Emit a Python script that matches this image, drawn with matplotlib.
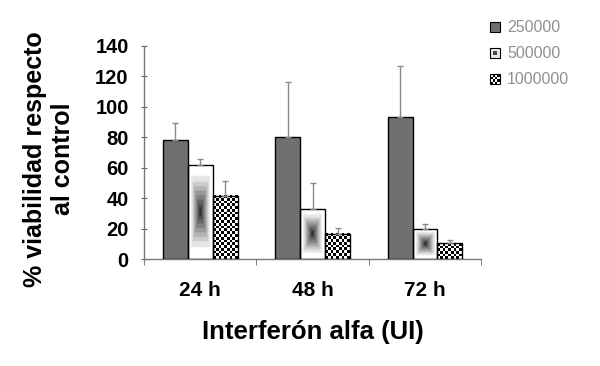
import numpy as np
import matplotlib
matplotlib.use("Agg")
import matplotlib.pyplot as plt
from matplotlib.patches import Rectangle
from matplotlib.legend_handler import HandlerBase

plt.rcParams['font.family'] = ['Liberation Sans', 'DejaVu Sans']

categories = ["24 h", "48 h", "72 h"]
series_names = ["250000", "500000", "1000000"]
values = {
    "250000": [78, 80, 93],
    "500000": [62, 33, 20],
    "1000000": [41.5, 16.5, 10.5],
}
errors = {
    "250000": [11, 36.5, 34],
    "500000": [3.5, 17, 3],
    "1000000": [10, 4, 1.7],
}
y_ticks = [0, 20, 40, 60, 80, 100, 120, 140]

fig = plt.figure(figsize=(6.0, 3.66), dpi=100)
ax = fig.add_axes([0.24, 0.2923, 0.562, 0.5827])

x = np.arange(len(categories))
bw = 0.222
offsets = [-bw, 0, bw]

# gradient image (box gradient, dark centre)
n = 64
u = np.linspace(-1, 1, n)
U, V = np.meshgrid(u, u)
r = np.maximum(np.abs(U), np.abs(V))
grad = 1 - 0.85 * np.clip(1 - r / 0.85, 0, 1) ** 1.2
grad = np.round(grad * 10) / 10.0

def checker(nx, ny):
    return (np.add.outer(np.arange(ny), np.arange(nx)) % 2).astype(float)

for i, name in enumerate(series_names):
    fc = '#707070' if i == 0 else 'none'
    bars = ax.bar(x + offsets[i], values[name], bw, facecolor=fc,
                  edgecolor='black', linewidth=1.0, zorder=3)
    for b in bars:
        x0, w, h = b.get_x(), b.get_width(), b.get_height()
        if i == 1:
            ax.imshow(grad, cmap='gray', vmin=0, vmax=1, extent=[x0, x0 + w, 0, h],
                      aspect='auto', interpolation='bilinear', zorder=2)
        elif i == 2:
            nx = 9
            ny = max(1, int(round(h * 1.524 / 2.8)))
            ax.imshow(checker(nx, ny), cmap='gray', vmin=0, vmax=1,
                      extent=[x0, x0 + w, 0, h], aspect='auto',
                      interpolation='nearest', zorder=2)
    ax.errorbar(x + offsets[i], values[name],
                yerr=[np.zeros(len(categories)), errors[name]],
                fmt='none', ecolor='#8a8a8a', elinewidth=1.0, capsize=2.5,
                capthick=1.0, zorder=4)

ax.set_xlim(-0.5, 2.5)
ax.set_ylim(0, 140)
ax.set_yticks(y_ticks)
ax.set_yticklabels([str(t) for t in y_ticks], fontsize=14.5, fontweight='bold')
ax.set_xticks(x)
ax.set_xticklabels(categories, fontsize=15, fontweight='bold')
ax.set_xticks([-0.5, 0.5, 1.5, 2.5], minor=True)
ax.tick_params(axis='x', which='major', length=0, pad=16)
ax.tick_params(axis='x', which='minor', length=4, direction='out', color='#666')
ax.tick_params(axis='y', length=4, direction='inout', color='#666', pad=9)

for s in ['top', 'right']:
    ax.spines[s].set_visible(False)
for s in ['left', 'bottom']:
    ax.spines[s].set_color('#777')
    ax.spines[s].set_linewidth(1.0)

ax.set_xlabel("Interferón alfa (UI)", fontsize=18.5, fontweight='bold')
ax.xaxis.set_label_coords(0.5, -0.285)
ax.set_ylabel("% viabilidad respecto\nal control", fontsize=18, fontweight='bold',
              linespacing=1.2)
ax.yaxis.set_label_coords(-0.205, 0.47)

# legend with custom handlers
class SolidHandler(HandlerBase):
    def create_artists(self, legend, orig, xd, yd, w, h, fs, trans):
        return [Rectangle((xd, yd), w, h, facecolor='#707070', edgecolor='black',
                          lw=0.8, transform=trans)]

class GradHandler(HandlerBase):
    def create_artists(self, legend, orig, xd, yd, w, h, fs, trans):
        a = Rectangle((xd, yd), w, h, facecolor='#e8e8e8', edgecolor='black',
                      lw=0.8, transform=trans)
        b = Rectangle((xd + w * 0.3, yd + h * 0.3), w * 0.4, h * 0.4,
                      facecolor='#444', edgecolor='none', transform=trans)
        return [a, b]

class CheckHandler(HandlerBase):
    def create_artists(self, legend, orig, xd, yd, w, h, fs, trans):
        arts = [Rectangle((xd, yd), w, h, facecolor='white', edgecolor='black',
                          lw=0.8, transform=trans)]
        k = 4
        for ii in range(k):
            for jj in range(k):
                if (ii + jj) % 2 == 0:
                    arts.append(Rectangle((xd + ii * w / k, yd + jj * h / k), w / k, h / k,
                                          facecolor='black', edgecolor='none',
                                          transform=trans))
        return arts

class H1: pass
class H2: pass
class H3: pass

leg = fig.legend([H1(), H2(), H3()], series_names,
                 handler_map={H1: SolidHandler(), H2: GradHandler(), H3: CheckHandler()},
                 loc='upper left', bbox_to_anchor=(0.793, 0.985), frameon=False,
                 fontsize=11.5, handlelength=0.6, handleheight=0.6, labelspacing=0.68,
                 handletextpad=0.45)
for t in leg.get_texts():
    t.set_color('#909090')

fig.savefig("out.png", dpi=100)
